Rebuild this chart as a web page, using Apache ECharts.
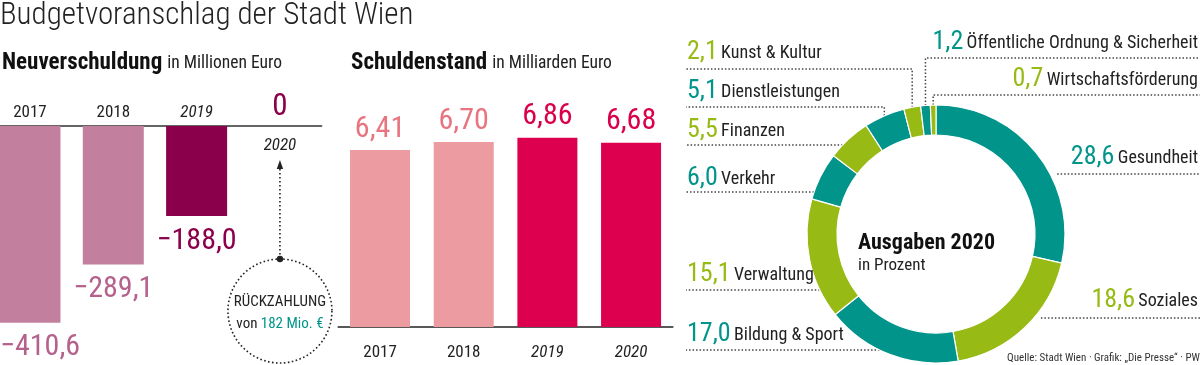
<!DOCTYPE html>
<html><head><meta charset="utf-8">
<script src="https://cdn.jsdelivr.net/npm/echarts@6/dist/echarts.min.js"></script>
<style>html,body{margin:0;padding:0;background:#fff}#c{width:1200px;height:365px}</style>
</head><body><div id="c"></div>
<script>
// ---- data ----
const years = ['2017', '2018', '2019', '2020'];
const forecastYears = ['2019', '2020'];
const newDebt = [-410.6, -289.1, -188.0, 0];          // Neuverschuldung, Mio. Euro
const totalDebt = [6.41, 6.70, 6.86, 6.68];           // Schuldenstand, Mrd. Euro
const spendNames = ['Gesundheit', 'Soziales', 'Bildung & Sport', 'Verwaltung', 'Verkehr',
  'Finanzen', 'Dienstleistungen', 'Kunst & Kultur', 'Öffentliche Ordnung & Sicherheit', 'Wirtschaftsförderung'];
const spendShares = [28.6, 18.6, 17.0, 15.1, 6.0, 5.5, 5.1, 2.1, 1.2, 0.7];
const repayment = 182;

// ---- styles / layout ----
const NARROW = "'Noto Sans ExtraCondensed','Noto Sans Condensed','Roboto Condensed','Open Sans Condensed','Liberation Sans Narrow','DejaVu Sans Condensed',sans-serif";
const TEAL = '#00948A', GREEN = '#97BA14';
const ND_PAST = '#C27F9E', ND_FC = '#8B004B', ND_LBL_PAST = '#B4628C';
const SD_PAST = '#EC9BA0', SD_FC = '#DC004E', SD_LBL_PAST = '#E8747F', SD_LBL_FC = '#D9004C';
const PIE_C = [936, 234], PIE_R = [99, 129];
const LEFT_X = 687, RIGHT_X = 1198;
const spots = [
  { side: 'right', textY: 157, lineY: 174 },
  { side: 'right', textY: 300, lineY: 318 },
  { side: 'left', textY: 334, lineY: 350 },
  { side: 'left', textY: 274, lineY: 290 },
  { side: 'left', textY: 178, lineY: 192 },
  { side: 'left', textY: 130, lineY: 145 },
  { side: 'left', textY: 91, lineY: 107, drop: true },
  { side: 'left', textY: 52, lineY: 69, drop: true },
  { side: 'right', textY: 42, lineY: 58, drop: true },
  { side: 'right', textY: 79, lineY: 95, drop: true }
];

const fmt0 = v => v === 0 ? '0' : v.toFixed(1).replace('.', ',');
const fmt2 = v => v.toFixed(2).replace('.', ',');
const fmt1 = v => (v < 0 ? '\u2212' : '') + Math.abs(v).toFixed(1).replace('.', ',');
const isFc = y => forecastYears.includes(y);

const chart = echarts.init(document.getElementById('c'), null, { renderer: 'canvas' });

const yearRich = {
  n: { fontFamily: NARROW, fontSize: 17, color: '#222' },
  i: { fontFamily: NARROW, fontSize: 17, color: '#222', fontStyle: 'italic' }
};

const option = {
  animation: false,
  backgroundColor: '#fff',
  title: [
    { text: 'Budgetvoranschlag der Stadt Wien', left: 0, top: 1, padding: 0,
      textStyle: { fontFamily: NARROW, fontWeight: 300, fontSize: 31, color: '#222' } },
    { text: '{b|Neuverschuldung} {r|in Millionen Euro}', left: 2, top: 52, padding: 0,
      textStyle: { rich: {
        b: { fontFamily: NARROW, fontWeight: 'bold', fontSize: 23, color: '#111' },
        r: { fontFamily: NARROW, fontWeight: 'normal', fontSize: 17.5, color: '#222' } } } },
    { text: '{b|Schuldenstand} {r|in Milliarden Euro}', left: 351, top: 52, padding: 0,
      textStyle: { rich: {
        b: { fontFamily: NARROW, fontWeight: 'bold', fontSize: 23, color: '#111' },
        r: { fontFamily: NARROW, fontWeight: 'normal', fontSize: 17.5, color: '#222' } } } },
    { text: 'Ausgaben 2020', subtext: 'in Prozent', left: 858, top: 232, padding: 0, itemGap: 3,
      textStyle: { fontFamily: NARROW, fontWeight: 'bold', fontSize: 22, color: '#111' },
      subtextStyle: { fontFamily: NARROW, fontSize: 17, color: '#222' } },
    { text: 'Quelle: Stadt Wien · Grafik: \u201EDie Presse\u201C · PW', right: 0, bottom: 1, padding: 0,
      textStyle: { fontFamily: NARROW, fontWeight: 'normal', fontSize: 11, color: '#333' } }
  ],
  grid: [
    { left: -11.7, width: 333.3, top: 126, height: 239.5, outerBoundsMode: 'none', containLabel: false },
    { left: 338.2, width: 334.7, top: 133.8, height: 193.2, outerBoundsMode: 'none', containLabel: false }
  ],
  xAxis: [
    { type: 'category', gridIndex: 0, data: years, position: 'top',
      axisLine: { lineStyle: { color: '#333', width: 1.5 } }, axisTick: { show: false },
      axisLabel: { margin: 5, interval: 0,
        formatter: (v, i) => newDebt[i] === 0 ? '' : (isFc(v) ? `{i|${v}}` : `{n|${v}}`), rich: yearRich } },
    { type: 'category', gridIndex: 1, data: years,
      axisLine: { lineStyle: { color: '#222', width: 1.5 } }, axisTick: { show: false },
      axisLabel: { margin: 17, interval: 0,
        formatter: v => isFc(v) ? `{i|${v}}` : `{n|${v}}`, rich: yearRich } }
  ],
  yAxis: [
    { type: 'value', gridIndex: 0, min: -500, max: 0, show: false },
    { type: 'value', gridIndex: 1, min: 0, max: 7, show: false }
  ],
  series: [
    { type: 'bar', xAxisIndex: 0, yAxisIndex: 0, barWidth: 61, silent: true,
      labelLayout: p => (p.labelRect.x < 0 ? { x: 0, align: 'left' } : {}),
      data: newDebt.map((v, i) => {
        const fc = isFc(years[i]);
        return {
          value: v,
          itemStyle: { color: fc ? ND_FC : ND_PAST },
          label: v === 0 ? {
            show: true, position: 'inside',
            formatter: p => `{z|${fmt0(p.value)}}\n{y|${p.name}}`,
            rich: {
              z: { fontFamily: NARROW, fontSize: 31, color: ND_FC, lineHeight: 40 },
              y: { fontFamily: NARROW, fontSize: 17, color: '#222', fontStyle: 'italic', lineHeight: 38 }
            }
          } : {
            show: true, position: 'bottom', distance: 10,
            formatter: p => fmt1(p.value),
            fontFamily: NARROW, fontSize: 30, color: fc ? ND_FC : ND_LBL_PAST
          }
        };
      })
    },
    { type: 'bar', xAxisIndex: 1, yAxisIndex: 1, barWidth: 60, silent: true,
      data: totalDebt.map((v, i) => {
        const fc = isFc(years[i]);
        return { value: v, itemStyle: { color: fc ? SD_FC : SD_PAST },
          label: { show: true, position: 'top', distance: 6, formatter: p => fmt2(p.value),
            fontFamily: NARROW, fontSize: 30, color: fc ? SD_LBL_FC : SD_LBL_PAST } };
      })
    },
    { type: 'pie', center: PIE_C, radius: PIE_R, startAngle: 90, clockwise: true,
      silent: true, avoidLabelOverlap: false, minShowLabelAngle: 0,
      itemStyle: { borderColor: '#fff', borderWidth: 1.2 },
      data: spendNames.map((n, i) => ({ name: n, value: spendShares[i],
        itemStyle: { color: i % 2 === 0 ? TEAL : GREEN },
        label: { rich: { v: { color: i % 2 === 0 ? TEAL : GREEN, fontFamily: NARROW, fontSize: 26 },
                         n: { color: '#222', fontFamily: NARROW, fontSize: 18, padding: [2, 0, 0, 0] } } } })),
      label: { show: true, position: 'outside', formatter: p => `{v|${fmt1(p.value)}} {n|${p.name}}` },
      labelLine: { show: true, length: 6, length2: 6, smooth: false,
        lineStyle: { color: '#444', width: 1.5, type: [1.5, 2] } },
      labelLayout: params => {
        const s = spots[params.dataIndex];
        const [cx, cy] = PIE_C, R = PIE_R[1];
        const left = s.side === 'left';
        const edgeX = left ? LEFT_X - 1 : 1200;
        let pts;
        if (s.drop) {
          const p0 = params.labelLinePoints[0];
          pts = [[p0[0], p0[1]], [p0[0], s.lineY], [edgeX, s.lineY]];
        } else {
          const dx = Math.sqrt(Math.max(0, R * R - (s.lineY - cy) * (s.lineY - cy)));
          const xr = left ? cx - dx : cx + dx + 7;
          pts = [[xr, s.lineY], [xr, s.lineY], [edgeX, s.lineY]];
        }
        return { x: left ? LEFT_X : RIGHT_X, y: s.textY, align: left ? 'left' : 'right',
          verticalAlign: 'middle', labelLinePoints: pts };
      }
    }
  ]
};
chart.setOption(option);

// ---- repayment annotation tied to the 2020 category ----
const yrs = years[years.length - 1];
const ax = chart.convertToPixel({ xAxisIndex: 0 }, yrs);
const ay = chart.convertToPixel({ yAxisIndex: 0 }, 0);
chart.setOption({
  graphic: [
    { type: 'polygon', shape: { points: [[ax, ay + 34], [ax - 3.2, ay + 43], [ax + 3.2, ay + 43]] }, style: { fill: '#222' } },
    { type: 'line', shape: { x1: ax, y1: ay + 43, x2: ax, y2: ay + 133 }, style: { stroke: '#222', lineWidth: 1.6, lineDash: [1.6, 2.4] } },
    { type: 'circle', shape: { cx: ax, cy: ay + 185, r: 52 }, style: { fill: 'none', stroke: '#222', lineWidth: 1.6, lineDash: [1.6, 2.4] } },
    { type: 'circle', shape: { cx: ax, cy: ay + 133, r: 3.2 }, style: { fill: '#222' } },
    { type: 'text', x: ax, y: ay + 176, style: { text: 'RÜCKZAHLUNG', fontFamily: NARROW, fontSize: 15, fill: '#222', align: 'center', verticalAlign: 'middle' } },
    { type: 'text', x: ax, y: ay + 198, style: { text: `{a|von} {b|${repayment} Mio. €}`, align: 'center', verticalAlign: 'middle',
        rich: { a: { fontFamily: NARROW, fontSize: 15, fill: '#222', color: '#222' }, b: { fontFamily: NARROW, fontSize: 15, color: TEAL, fill: TEAL } } } }
  ]
});
</script></body></html>
